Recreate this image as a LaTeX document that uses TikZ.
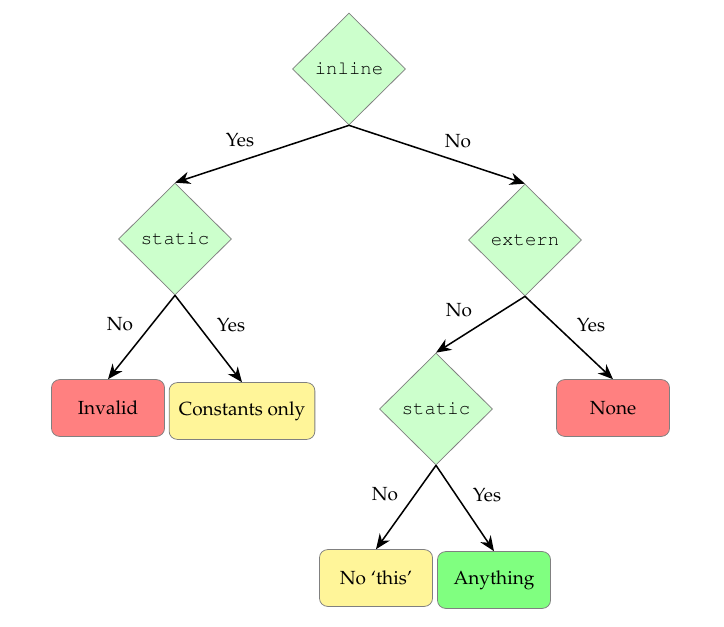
\documentclass[tikz,border=0pt]{standalone}
\usepackage[T1]{fontenc}
\usepackage{mathpazo}
\usepackage{courier}
\usetikzlibrary{shapes.geometric,arrows.meta}
\definecolor{askgreen}{RGB}{204,255,204}
\definecolor{badred}{RGB}{255,128,128}
\definecolor{mehyellow}{RGB}{255,245,153}
\definecolor{goodgreen}{RGB}{128,255,128}

\begin{document}
\begin{tikzpicture}[x=0.0185cm,y=-0.0185cm]
            \tikzstyle{arrow}=[thick,->,>={Stealth[length=2.8mm,width=2.3mm,inset=0.9mm]}]
            \tikzstyle{question}=[diamond,draw=gray,fill=askgreen,minimum width=2.09cm,minimum height=2.07cm,inner sep=0pt,font=\ttfamily]
            \tikzstyle{answer}=[rectangle,rounded corners=0.15cm,draw=gray,minimum width=2.09cm,minimum height=1.05cm,inner xsep=0.18cm]
            \useasboundingbox (0,0) rectangle (724,627);
            % questions
            \node[question] (inline) at (349,69) {inline};
            \node[question] (static_a) at (175,239) {static};
            \node[question] (extern) at (525,240) {extern};
            \node[question] (static_b) at (436,409) {static};
            % answers
            \node[answer,fill=badred] (invalid) at (108,408) {Invalid};
            \node[answer,fill=mehyellow] (constants) at (242,411) {Constants only};
            \node[answer,fill=badred] (none) at (613,408) {None};
            \node[answer,fill=mehyellow] (nothis) at (376,578) {No `this'};
            \node[answer,fill=goodgreen] (anything) at (494,580) {Anything};
            % arrows
            \draw[arrow] (inline.south) -- (static_a.north);
            \draw[arrow] (inline.south) -- (extern.north);
            \draw[arrow] (static_a.south) -- (invalid.north);
            \draw[arrow] (static_a.south) -- (constants.north);
            \draw[arrow] (extern.south) -- (static_b.north);
            \draw[arrow] (extern.south) -- (none.north);
            \draw[arrow] (static_b.south) -- (nothis.north);
            \draw[arrow] (static_b.south) -- (anything.north);
            % labels
            \node (yes_inline) at (240,140) {Yes};
            \node (no_inline) at (458,141) {No};
            \node (no_static_a) at (120,324) {No};
            \node (yes_static_a) at (231,325) {Yes};
            \node (no_extern) at (459,310) {No};
            \node (yes_extern) at (591,325) {Yes};
            \node (no_static_b) at (385,494) {No};
            \node (yes_static_b) at (487,495) {Yes};
        \end{tikzpicture}
\end{document}
